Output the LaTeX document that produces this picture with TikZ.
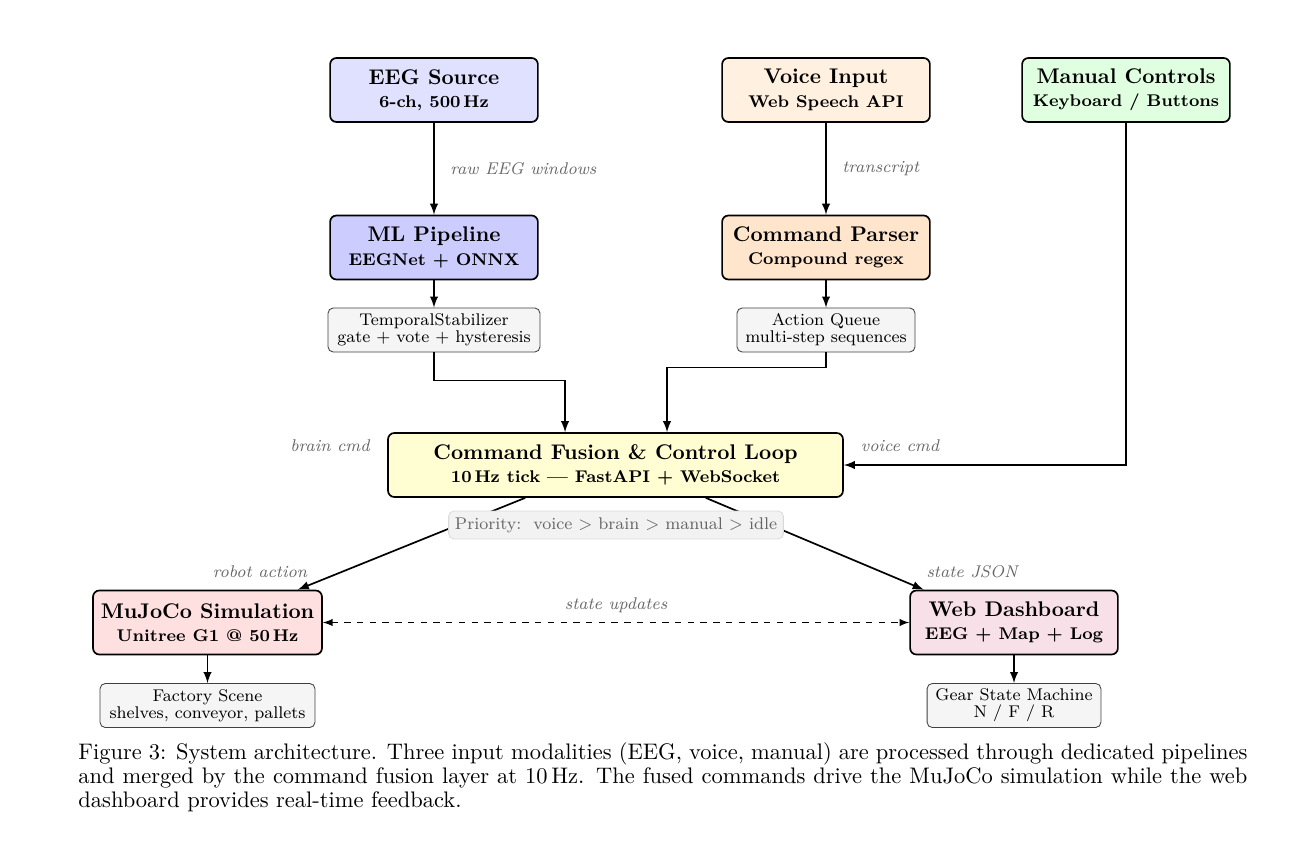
\documentclass[tikz,border=0pt]{standalone}
\usetikzlibrary{arrows.meta}

\newcommand{\blocktext}[2]{{\bfseries #1}\\[-1pt]{\footnotesize\bfseries #2}}

\begin{document}
\begin{tikzpicture}[x = 0.4717pt, y = -0.4717pt, > = latex,
	block/.style = {draw, thick, rounded corners = 3pt, align = center, minimum width = 98pt, minimum height = 30.2pt, inner sep = 2pt},
	note/.style = {draw = black!75, fill = gray!8, rounded corners = 2.5pt, align = center, font = \footnotesize, inner sep = 2pt, minimum height = 20.8pt},
	lbl/.style = {font = \footnotesize\itshape, text = black!60},
	flow/.style = {->, thick}]

	% Frame

	\useasboundingbox (0, 0) rectangle (1315, 855);

	% Inputs

	\node [block, fill = blue!12] (eeg) at (434, 90) {\blocktext{EEG Source}{6-ch, 500\,Hz}};
	\node [block, fill = orange!12] (voice) at (826, 90) {\blocktext{Voice Input}{Web Speech API}};
	\node [block, fill = green!12] (manual) at (1126, 90) {\blocktext{Manual Controls}{Keyboard / Buttons}};

	% Processing

	\node [block, fill = blue!20] (ml) at (434, 247.5) {\blocktext{ML Pipeline}{EEGNet + ONNX}};
	\node [block, fill = orange!20] (parser) at (826, 247.5) {\blocktext{Command Parser}{Compound regex}};

	\node [note, minimum width = 100pt] (stab) at (434, 330) {TemporalStabilizer\\[-1.5pt]gate + vote + hysteresis};
	\node [note, minimum width = 84pt] (queue) at (826, 330) {Action Queue\\[-1.5pt]multi-step sequences};

	% Fusion

	\node [block, fill = yellow!18, minimum width = 214.6pt] (fusion) at (615.5, 465) {\blocktext{Command Fusion \& Control Loop}{10\,Hz tick --- FastAPI + WebSocket}};

	% Outputs

	\node [block, fill = red!12, minimum width = 108pt] (sim) at (207.5, 622.5) {\blocktext{MuJoCo Simulation}{Unitree G1 @ 50\,Hz}};
	\node [block, fill = purple!12] (dash) at (1014, 622.5) {\blocktext{Web Dashboard}{EEG + Map + Log}};

	\node [note, minimum width = 101.4pt] (scene) at (207.5, 705.5) {Factory Scene\\[-1.5pt]shelves, conveyor, pallets};
	\node [note, minimum width = 82pt] (gear) at (1014, 705.5) {Gear State Machine\\[-1.5pt]N / F / R};

	% Connectors

	\draw [flow] (eeg) -- node [lbl, right = 4pt] {raw EEG windows} (ml);
	\draw [flow] (voice) -- node [lbl, right = 4pt] {transcript} (parser);
	\draw [flow] (ml) -- (stab);
	\draw [flow] (parser) -- (queue);

	\draw [flow] (stab.south) -- ++(0, 28) -| ([xshift = -23.8pt] fusion.north);
	\draw [flow] (queue.south) -- ++(0, 15) -| ([xshift = 24.3pt] fusion.north);
	\draw [flow] (manual.south) |- (fusion.east);

	\node [lbl] (braincmd) at (330, 446) {brain cmd};
	\node [lbl] (voicecmd) at (900, 446) {voice cmd};

	\draw [flow] (fusion.200) -- (sim.20);
	\draw [flow] (fusion.340) -- (dash.160);

	\node [lbl] (robotact) at (260, 572) {robot action};
	\node [lbl] (statejson) at (972, 572) {state JSON};

	\node [draw = gray!30, fill = gray!10, rounded corners = 2.5pt, text = black!60, font = \footnotesize, inner sep = 3pt] (prio) at (616, 525) {Priority:\ \ voice $>$ brain $>$ manual $>$ idle};

	\draw [<->, semithick, dashed] (sim) -- node [lbl, above = 1pt] {state updates} (dash);

	\draw [flow] (sim) -- (scene);
	\draw [flow] (dash) -- (gear);

	% Caption

	\node [anchor = north west, text width = 551.4pt, align = justify, inner sep = 0pt, font = \fontsize{10.6pt}{11.4pt}\selectfont] (caption) at (78, 742) {Figure 3: System architecture. Three input modalities (EEG, voice, manual) are processed through dedicated pipelines and merged by the command fusion layer at 10\,Hz. The fused commands drive the MuJoCo simulation while the web dashboard provides real-time feedback.};

\end{tikzpicture}
\end{document}
